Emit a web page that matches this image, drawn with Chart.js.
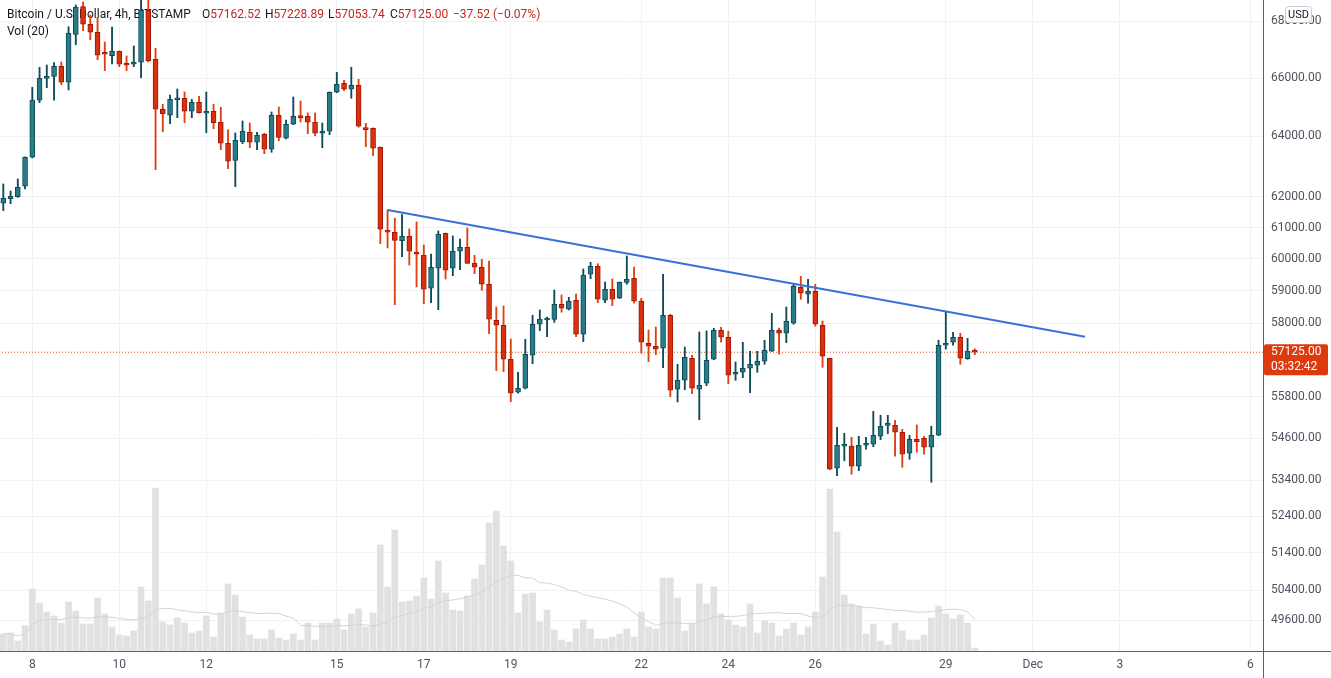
<!DOCTYPE html>
<html>
<head>
<meta charset="utf-8">
<title>BTCUSD 4h</title>
<script src="https://cdn.jsdelivr.net/npm/chart.js@4.4.1/dist/chart.umd.min.js"></script>
<style>
  html, body { margin: 0; padding: 0; background: #fff; }
  #wrap { width: 1331px; height: 678px; position: relative; }
</style>
</head>
<body>
<div id="wrap"><canvas id="chart"></canvas></div>
<script>
(function() {
  'use strict';

  // 4h candles, Bitstamp BTC/USD, from Nov 7 08:00
  const opens = [61786,61936,62001,62342,63301,65230,65990,66059,66409,65852,
    67537,68526,67894,67609,66841,66781,66936,66524,66479,66549,
    68397,66654,64922,64718,65250,65299,64854,65161,64786,64854,
    64479,63770,63201,63823,64141,63803,64073,63569,64718,63938,
    64411,64683,64683,64479,64107,64174,65506,65817,65610,65748,
    64276,64276,63636,60914,60850,60581,60722,60222,60117,59082,
    59707,60818,59707,60244,60371,59864,59739,59206,58094,57942,
    56913,55933,56051,57033,57972,58103,58124,58586,58432,58709,
    57668,59519,59770,58709,59051,58771,59268,59393,58678,57395,
    57304,57244,58248,56022,56287,56943,56022,56199,56913,57789,
    57576,56466,56525,56645,56734,56853,57154,57789,57698,58003,
    59113,58895,58988,57942,56943,53739,54365,54370,53795,54393,
    54422,54652,54965,54969,54767,54165,54565,54594,54336,54681,
    57334,57425,57576,56931,57162.52];
  const highs = [62418,62188,62582,63320,65679,66374,66454,66535,66559,67808,
    68588,68696,68227,68144,67264,67797,66947,66770,67123,68950,
    68900,67041,65093,65413,65620,65516,65264,65368,65516,65093,
    64991,64219,64117,64523,64455,64141,64107,64830,65001,64557,
    65344,65206,64796,64796,64455,65520,66200,65921,66374,65955,
    64445,64290,63650,61569,61303,61417,60956,61181,60444,60158,
    60892,60828,60731,60635,60988,60117,59990,59937,58503,58534,
    57524,56525,57515,58248,58411,58195,59029,58874,58802,58905,
    59685,59896,59852,59278,59371,59278,60095,59748,58771,57799,
    57890,59519,58279,56764,57283,57033,57738,57768,57850,57880,
    57759,56832,57425,57154,57154,57485,58309,57859,58503,59206,
    59456,59362,59206,58073,56950,54911,54738,54623,54652,54623,
    55376,55259,55259,55113,54854,54680,54978,54652,54940,57485,
    58340,57728,57698,57546,57228.89];
  const lows = [61546,61773,61982,62254,63278,65148,65665,65230,65769,65586,
    67168,67666,67345,66640,66256,66489,66395,66256,66395,66011,
    66560,62890,64161,64432,64636,64466,64636,64786,64127,64262,
    63556,62923,62329,63756,63622,63556,63422,63469,63857,63913,
    64400,64489,64093,64026,63622,64059,65490,65561,65299,64310,
    63656,63355,60486,60349,58573,60073,59811,59122,58604,58635,
    58420,59371,59475,59663,59855,59538,59020,57686,56573,56543,
    55656,55904,56030,56782,57777,57594,58033,58340,58410,57594,
    57443,59381,58635,58635,58543,58765,59206,58617,57094,56841,
    57052,56663,55803,55648,56010,55892,55131,56128,56900,57425,
    56187,56287,56365,55921,56525,56764,57148,57064,57413,57972,
    58740,58617,57911,56674,53700,53529,53953,53569,53671,54279,
    54353,54554,54727,54079,53767,53993,54193,54136,53344,54670,
    57214,57334,56764,56913,57053.74];
  const closes = [61949,62014,62310,63301,65240,65990,66059,66409,65852,67573,
    68505,67894,67609,66795,66830,66936,66479,66444,66559,68397,
    66605,64922,64772,65264,65309,64854,65161,64806,64854,64466,
    63770,63168,63870,64185,63803,64039,63569,64718,63971,64411,
    64683,64636,64479,64107,64174,65506,65782,65610,65748,64344,
    64229,63602,60946,60850,60587,60722,60244,60149,59051,59739,
    60786,59645,60244,60371,59864,59739,59206,58125,57942,56913,
    55904,56051,57064,57972,58134,58124,58586,58463,58687,57668,
    59497,59770,58740,59051,58740,59268,59362,58678,57425,57304,
    57214,58248,55992,56287,56973,56051,56140,56883,57789,57576,
    56436,56525,56645,56764,56853,57184,57789,57698,58063,59144,
    58926,58988,57972,57003,53710,54393,54370,53795,54393,54430,
    54681,54940,54975,54767,54136,54565,54496,54336,54681,57334,
    57395,57576,56943,57162.52,57125.00];
  const volumes = [51,54,30,76,186,144,117,105,84,147,
    120,81,81,159,111,72,48,45,60,192,
    150,489,87,78,99,84,54,60,105,42,
    114,201,168,102,48,36,36,63,39,33,
    51,33,84,33,84,84,96,63,111,126,
    72,114,318,192,363,147,150,165,219,156,
    270,174,123,120,165,216,258,384,420,315,
    270,114,171,174,87,123,63,33,27,66,
    93,66,36,36,42,51,66,42,117,72,
    66,219,219,159,60,84,201,141,192,111,
    93,78,72,141,54,90,84,45,66,84,
    48,72,117,222,486,357,168,141,135,51,
    81,30,18,84,60,33,33,48,99,135,
    111,96,108,84,9];

  // time axis: candle index of each day label
  const dayTicks  = [4, 16, 28, 46, 58, 70, 88, 100, 112, 130, 142, 154, 172];
  const dayLabels = ['8', '10', '12', '15', '17', '19', '22', '24', '26', '29', 'Dec', '3', '6'];
  const priceTicks = [68000, 66000, 64000, 62000, 61000, 60000, 59000, 58000,
    55800, 54600, 53400, 52400, 51400, 50400, 49600];

  // drawn trend line (candle index, price)
  const trendX = [53, 149.2];
  const trendY = [61570, 57590];

  const countdown = '03:32:42';
  const FONT = 'Roboto, "Noto Sans", sans-serif';

  const UP = '#2a7b88', UP_EDGE = '#0d4b56';
  const DOWN = '#d8320c', DOWN_EDGE = '#a3150a', DOWN_WICK = '#e0400f';

  const last = closes.length - 1;
  const lastPrice = closes[last];
  const up = closes.map((c, i) => c >= opens[i]);

  const volMA = volumes.map((_, i) => {
    const s = volumes.slice(Math.max(0, i - 19), i + 1);
    return s.reduce((a, b) => a + b, 0) / s.length;
  });

  Chart.defaults.font.family = FONT;

  const overlay = {
    id: 'overlay',
    beforeDatasetsDraw(chart) {
      const ctx = chart.ctx;
      ctx.save();
      ctx.font = '12px ' + FONT;
      ctx.textBaseline = 'middle';
      ctx.fillStyle = '#131722';
      ctx.fillText('Bitcoin / U.S. Dollar, 4h, BITSTAMP', 7, 15);
      const chg = closes[last] - closes[last - 1];
      const pct = chg / closes[last - 1] * 100;
      const parts = [['O', opens[last]], ['H', highs[last]], ['L', lows[last]], ['C', closes[last]]];
      const partX = [202, 265, 328, 390];
      parts.forEach(([k, v], j) => {
        const x = partX[j];
        ctx.fillStyle = '#131722';
        ctx.fillText(k, x, 15);
        ctx.fillStyle = '#c4261d';
        ctx.fillText(v.toFixed(2), x + ctx.measureText(k).width, 15);
      });
      const sign = chg < 0 ? '\u2212' : '+';
      ctx.fillStyle = '#c4261d';
      ctx.fillText(sign + Math.abs(chg).toFixed(2) + ' (' + sign + Math.abs(pct).toFixed(2) + '%)', 453, 15);
      ctx.fillStyle = '#131722';
      ctx.fillText('Vol (20)', 7, 32);
      ctx.restore();
    },
    afterDraw(chart) {
      const ctx = chart.ctx;
      const area = chart.chartArea;
      ctx.save();
      // axis lines
      ctx.strokeStyle = '#5d606b';
      ctx.lineWidth = 1;
      ctx.beginPath();
      ctx.moveTo(Math.round(area.right) + 0.5, 0);
      ctx.lineTo(Math.round(area.right) + 0.5, chart.height);
      ctx.moveTo(0, Math.round(area.bottom) + 0.5);
      ctx.lineTo(chart.width, Math.round(area.bottom) + 0.5);
      ctx.stroke();

      // last price label
      const py = chart.scales.y.getPixelForValue(lastPrice);
      ctx.fillStyle = '#dd3a0e';
      ctx.beginPath();
      ctx.roundRect(area.right + 1, py - 8, 64, 31, 2);
      ctx.fill();
      ctx.fillStyle = '#ffffff';
      ctx.font = '12px ' + FONT;
      ctx.textBaseline = 'middle';
      ctx.fillText(lastPrice.toFixed(2), area.right + 8, py);
      ctx.fillText(countdown, area.right + 8, py + 15);

      // currency badge
      ctx.fillStyle = '#ffffff';
      ctx.strokeStyle = '#c9ccd4';
      ctx.beginPath();
      ctx.roundRect(1285.5, 6.5, 26, 16, 3);
      ctx.fill();
      ctx.stroke();
      ctx.fillStyle = '#131722';
      ctx.font = '11px ' + FONT;
      ctx.textAlign = 'center';
      ctx.fillText('USD', 1298.5, 15);
      ctx.restore();
    }
  };

  const idx = opens.map((_, i) => i);

  new Chart(document.getElementById('chart'), {
    type: 'bar',
    data: {
      datasets: [
        {
          type: 'bar', label: 'Volume', yAxisID: 'yv', order: 7, grouped: false,
          data: idx.map(i => ({ x: i, y: volumes[i] })),
          backgroundColor: '#e1e1e1', barThickness: 6
        },
        {
          type: 'line', label: 'Vol MA', yAxisID: 'yv', order: 6,
          data: idx.map(i => ({ x: i, y: volMA[i] })),
          borderColor: '#d4d4d4', borderWidth: 1, pointRadius: 0, tension: 0
        },
        {
          type: 'line', label: 'Last', yAxisID: 'y', order: 5,
          data: [{ x: -1, y: lastPrice }, { x: 180, y: lastPrice }],
          borderColor: DOWN_WICK, borderWidth: 1, borderDash: [1, 2], pointRadius: 0
        },
        {
          type: 'bar', label: 'Wicks', yAxisID: 'y', order: 4, grouped: false,
          data: idx.map(i => ({ x: i, y: [lows[i], highs[i]] })),
          backgroundColor: idx.map(i => up[i] ? UP_EDGE : DOWN_WICK),
          barThickness: 1.2
        },
        {
          type: 'bar', label: 'Bodies', yAxisID: 'y', order: 3, grouped: false,
          data: idx.map(i => ({ x: i, y: [opens[i], closes[i]] })),
          backgroundColor: idx.map(i => up[i] ? UP : DOWN),
          borderColor: idx.map(i => up[i] ? UP_EDGE : DOWN_EDGE),
          borderWidth: 1, borderSkipped: false, barThickness: 5, minBarLength: 2
        },
        {
          type: 'line', label: 'Trend', yAxisID: 'y', order: 2,
          data: trendX.map((x, i) => ({ x: x, y: trendY[i] })),
          borderColor: '#3a70d8', borderWidth: 2, pointRadius: 0
        }
      ]
    },
    options: {
      responsive: true,
      maintainAspectRatio: false,
      animation: false,
      devicePixelRatio: 1,
      layout: { padding: 0 },
      plugins: { legend: { display: false }, tooltip: { enabled: false } },
      scales: {
        x: {
          type: 'linear', min: -0.455, max: 173.75, offset: false,
          grid: { color: '#f0f1f4', drawTicks: false, offset: false },
          border: { display: false },
          afterBuildTicks: s => { s.ticks = dayTicks.map(v => ({ value: v })); },
          afterFit: s => { s.height = 27; s.paddingLeft = 0; s.paddingRight = 0; },
          ticks: {
            autoSkip: false, maxRotation: 0, padding: 7,
            color: '#4e5360', font: { size: 12 },
            callback: v => dayLabels[dayTicks.indexOf(v)]
          }
        },
        y: {
          type: 'logarithmic', position: 'right', min: 48808, max: 68768,
          grid: { color: '#f0f1f4', drawTicks: false },
          border: { display: false },
          afterBuildTicks: s => { s.ticks = priceTicks.map(v => ({ value: v })); },
          afterFit: s => { s.width = 68; s.paddingTop = 0; s.paddingBottom = 0; },
          ticks: {
            autoSkip: false, padding: 8,
            color: '#4e5360', font: { size: 12 },
            callback: v => Number(v).toFixed(2)
          }
        },
        yv: {
          type: 'linear', display: false, min: 0, max: 1953
        }
      }
    },
    plugins: [overlay]
  });
})();
</script>
</body>
</html>
